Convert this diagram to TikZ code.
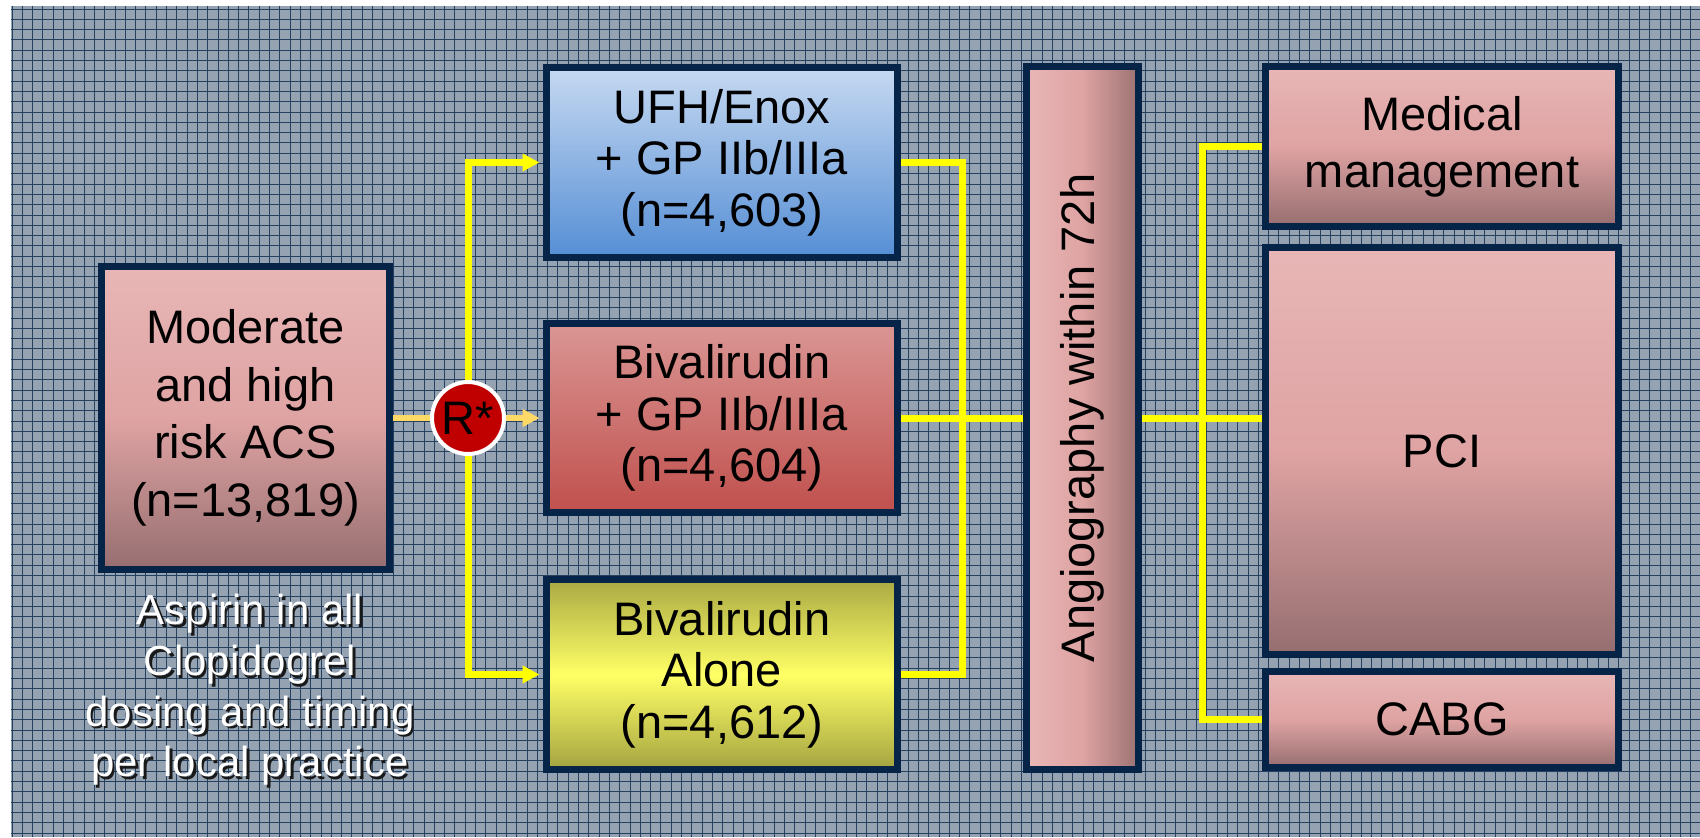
\documentclass[tikz,border=0pt]{standalone}
\usepackage{fontspec}
\setmainfont{Liberation Sans}
\usepackage{graphicx}
\usetikzlibrary{arrows.meta}
\pgfdeclarelayer{gridlayer}
\pgfdeclarelayer{connlayer}
\pgfsetlayers{gridlayer,connlayer,main}
\definecolor{bordercol}{HTML}{062447}
\definecolor{bgbase}{HTML}{95A2B2}
\definecolor{gridcol}{HTML}{25415F}
\definecolor{pinkA}{HTML}{E8B6B6}
\definecolor{pinkB}{HTML}{DFA3A3}
\definecolor{pinkC}{HTML}{966E70}
\definecolor{blueA}{HTML}{C6D9F1}
\definecolor{blueB}{HTML}{558ED5}
\definecolor{redA}{HTML}{DA9694}
\definecolor{redB}{HTML}{C0504D}
\definecolor{yelA}{HTML}{A9A944}
\definecolor{yelB}{HTML}{FFFF66}
\definecolor{yelC}{HTML}{A3A341}
\definecolor{angR}{HTML}{9C7272}
\definecolor{yel}{HTML}{FFFF00}
\definecolor{orng}{HTML}{FFD966}
\definecolor{rred}{HTML}{C00000}
\tikzset{
  box/.style={draw=bordercol, line width=3.5pt, rectangle, inner sep=0pt,
    align=center, text=black, font=\fontsize{23.5}{25.75}\selectfont},
  pinkv/.style={top color=pinkA, bottom color=pinkC, middle color=pinkB},
  gridline/.style={draw=gridcol, line width=0.45pt},
  yl/.style={draw=yel, line width=3.5pt},
  ylarrow/.style={yl, -{Triangle[length=8.5pt,width=8.5pt]}, shorten >=1.75pt},
  orl/.style={draw=orng, line width=3pt},
  orarrow/.style={orl, -{Triangle[length=8.5pt,width=8.5pt]}, shorten >=1.75pt},
  notetext/.style={align=center, font=\fontsize{21}{25.35}\selectfont, inner sep=0pt}
}
\begin{document}
\begin{tikzpicture}[x=0.5pt, y=-0.5pt]
\useasboundingbox (0,0) rectangle (1700,837);
\begin{pgfonlayer}{gridlayer}
  \fill[white] (0,0) rectangle (1700,837);
  \fill[bgbase] (11,6) rectangle (1700,837);
  \foreach \k in {0,...,164} \draw[gridline] ({12+10.3*\k},6) -- ({12+10.3*\k},837);
  \foreach \k in {0,...,80} \draw[gridline] (11,{9+10.3*\k}) -- (1700,{9+10.3*\k});
\end{pgfonlayer}

% boxes
\node[box, pinkv, minimum width=144pt, minimum height=151.5pt,
      font=\fontsize{23.5}{28.75}\selectfont] (acs) at (245.5,418)
      {Moderate\\and high\\risk ACS\\(n=13,819)};
\node[box, top color=blueA, bottom color=blueB, minimum width=175.5pt, minimum height=95pt]
      (ufh) at (722,162.5) {UFH/Enox\\+ GP IIb/IIIa\\(n=4,603)};
\node[box, top color=redA, bottom color=redB, minimum width=175.5pt, minimum height=94.5pt]
      (biv) at (722,418) {Bivalirudin\\+ GP IIb/IIIa\\(n=4,604)};
\node[box, top color=yelA, bottom color=yelC, middle color=yelB, minimum width=175.5pt, minimum height=95pt]
      (alone) at (722,674.5) {Bivalirudin\\Alone\\(n=4,612)};
\node[box, left color=pinkA, right color=angR, middle color=pinkB, minimum width=56pt, minimum height=351.5pt]
      (angio) at (1082.5,418) {\rotatebox{90}{Angiography within 72h}};
\node[box, pinkv, minimum width=176.5pt, minimum height=80pt,
      font=\fontsize{23.5}{28.5}\selectfont] (med) at (1442,146.5) {Medical\\management};
\node[box, pinkv, minimum width=176.5pt, minimum height=203.5pt] (pci) at (1442,451) {PCI};
\node[box, pinkv, minimum width=176.5pt, minimum height=48pt] (cabg) at (1442,719.5) {CABG};

\node[circle, fill=rred, draw=white, line width=2pt, minimum size=36pt, inner sep=0pt,
      font=\fontsize{23.5}{25}\selectfont] (R) at (468,418) {R*};

\coordinate (jl) at (962,418);
\coordinate (jr) at (1202,418);

% note text with shadow
\node[notetext, text=black!90] (noteshadow) at (252.5,692.5)
  {Aspirin in all\\Clopidogrel\\dosing and timing\\per local practice};
\node[notetext, text=white] (note) at (250,690)
  {Aspirin in all\\Clopidogrel\\dosing and timing\\per local practice};

\begin{pgfonlayer}{connlayer}
  \draw[yl] (ufh.east) -| (jl);
  \draw[yl] (alone.east) -| (jl);
  \draw[yl] (biv.east) -- (angio.west);
  \draw[yl] (angio.east) -- (angio.east -| pci.west);
  \draw[yl] (jr) |- (med.west);
  \draw[yl] (jr) |- (cabg.west);
  \draw[ylarrow] (R.north) |- (ufh.west);
  \draw[ylarrow] (R.south) |- (alone.west);
  \draw[orl] (acs.east) -- (R.west);
  \draw[orarrow] (R.east) -- (biv.west);
\end{pgfonlayer}
\end{tikzpicture}
\end{document}
